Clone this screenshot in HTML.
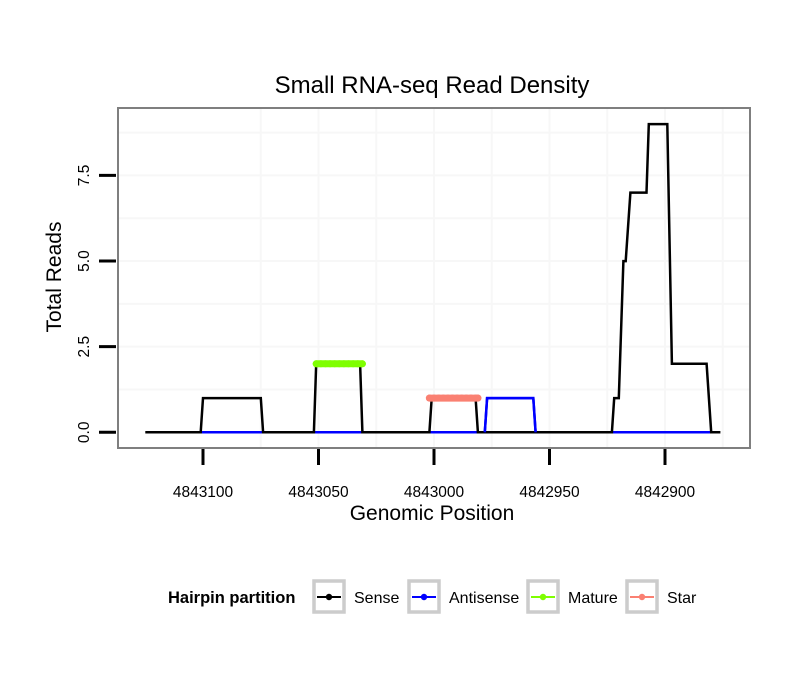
<!DOCTYPE html>
<html><head><meta charset="utf-8">
<style>
body{margin:0;background:#fff;}
svg{display:block;font-family:"Liberation Sans",Arial,sans-serif;}
</style></head>
<body>
<svg id="chart" width="810" height="690" viewBox="0 0 810 690">
  <text x="432" y="93" font-size="24" text-anchor="middle">Small RNA-seq Read Density</text>
  <rect x="118" y="108" width="632" height="340" fill="#fff" stroke="none"/>
  <g id="grid"></g>
  <g id="series"></g>
  <rect x="118" y="108" width="632" height="340" fill="none" stroke="#7f7f7f" stroke-width="2"/>
  <g id="axes"></g>
  <text x="432" y="520" font-size="21" text-anchor="middle">Genomic Position</text>
  <text transform="translate(61,277) rotate(-90)" font-size="21" text-anchor="middle">Total Reads</text>
  <g>
    <text x="168" y="603" font-size="16.5" font-weight="bold">Hairpin partition</text>
    <g id="legend-keys"></g>
  </g>
</svg>
<script>
// Data (genomic positions; x axis reversed)
const xTicks = [4843100, 4843050, 4843000, 4842950, 4842900];
const yTicks = [0, 2.5, 5, 7.5];
const yTickLabels = ["0.0", "2.5", "5.0", "7.5"];
const sensePos = [4843125,4843101,4843100,4843075,4843074,4843052,4843051,4843032,4843031,4843002,4843001,4842982,4842981,4842923,4842922,4842920,4842918,4842917,4842915,4842908,4842907,4842899,4842897,4842882,4842880,4842876];
const senseVal = [0,0,1,1,0,0,2,2,0,0,1,1,0,0,1,1,5,5,7,7,9,9,2,2,0,0];
const antiPos = [4842980,4842978,4842977,4842957,4842956,4842954];
const antiVal = [0,0,1,1,0,0];
const maturePos = [4843051,4843049,4843047,4843045,4843043,4843041,4843039,4843037,4843035,4843033,4843031];
const matureVal = [2,2,2,2,2,2,2,2,2,2,2];
const starPos = [4843002,4843000,4842998,4842996,4842994,4842992,4842990,4842988,4842986,4842984,4842982,4842981];
const starVal = [1,1,1,1,1,1,1,1,1,1,1,1];
const legendLabels = ["Sense","Antisense","Mature","Star"];
const legendColors = ["#000000","#0000ff","#7fff00","#fa8072"];

const NS = "http://www.w3.org/2000/svg";
function xs(p){ return 203 + (4843100 - p) * 2.31; }
function ys(v){ return 432.3 - v * 34.25; }
function mk(tag, attrs, parent){
  const e = document.createElementNS(NS, tag);
  for (const k in attrs) e.setAttribute(k, attrs[k]);
  parent.appendChild(e); return e;
}
const grid = document.getElementById('grid');
const series = document.getElementById('series');
const axes = document.getElementById('axes');

for (let v = 1.25; v <= 8.75; v += 1.25) {
  const g = mk('line', {x1:119, x2:749, y1:ys(v), y2:ys(v), stroke:'#f7f7f7', 'stroke-width': 2}, grid);
  
  
}
for (let p = 4843075; p >= 4842875; p -= 25) {
  const g = mk('line', {x1:xs(p), x2:xs(p), y1:109, y2:447, stroke:'#f7f7f7', 'stroke-width': 2}, grid);
  
  
}

function pts(P, V){ return P.map((p,i)=>xs(p).toFixed(1)+','+ys(V[i]).toFixed(1)).join(' '); }

[[4843101,4843074],[4843052,4843031],[4843002,4842981],[4842923,4842880]].forEach(s=>{
  const b = mk('line', {x1:xs(s[0]), x2:xs(s[1]), y1:ys(0), y2:ys(0), stroke:'#0000ff', 'stroke-width':2.5}, series);
  
  
});
const al = mk('polyline', {points: pts(antiPos, antiVal), fill:'none', stroke:'#0000ff', 'stroke-width':2.5}, series);


const sl = mk('polyline', {points: pts(sensePos, senseVal), fill:'none', stroke:'#000', 'stroke-width':2.5}, series);


const al2 = mk('polyline', {points: pts(antiPos.slice(1,5), antiVal.slice(1,5)), fill:'none', stroke:'#0000ff', 'stroke-width':2.5}, series);



function band(P, V, color, name){
  const l = mk('polyline', {points: pts(P, V), fill:'none', stroke:color, 'stroke-width':7, 'stroke-linecap':'round'}, series);
  
  
  P.forEach((p,i)=>{
    const c = mk('circle', {cx:xs(p), cy:ys(V[i]), r:3.5, fill:color}, series);
    
    
  });
}
band(maturePos, matureVal, '#7fff00', 'mature');
band(starPos, starVal, '#fa8072', 'star');

xTicks.forEach(t=>{
  const l = mk('line', {x1:xs(t), x2:xs(t), y1:449, y2:465, stroke:'#000', 'stroke-width':3}, axes);
  
  
  const tx = mk('text', {x:xs(t), y:497, 'font-size':15.5, 'text-anchor':'middle'}, axes);
  tx.textContent = t;
  
  
});
yTicks.forEach((t,i)=>{
  const l = mk('line', {x1:99, x2:116, y1:ys(t), y2:ys(t), stroke:'#000', 'stroke-width':3}, axes);
  
  
  const tx = mk('text', {transform:'translate(89,'+ys(t)+') rotate(-90)', 'font-size':15.5, 'text-anchor':'middle'}, axes);
  tx.textContent = yTickLabels[i];
  
  
});

const lk = document.getElementById('legend-keys');
const boxX = [314, 409, 528, 627];
legendLabels.forEach((lab,i)=>{
  const g = mk('g', {}, lk);
  
  
  mk('rect', {x:boxX[i], y:581, width:30, height:31, fill:'#fff', stroke:'#cccccc', 'stroke-width':3.5}, g);
  mk('line', {x1:boxX[i]+3, x2:boxX[i]+27, y1:597, y2:597, stroke:legendColors[i], 'stroke-width':2}, g);
  mk('circle', {cx:boxX[i]+15, cy:597, r:3.2, fill:legendColors[i]}, g);
  const t = mk('text', {x:boxX[i]+40, y:603, 'font-size':16}, g);
  t.textContent = lab;
});
</script>
</body></html>
